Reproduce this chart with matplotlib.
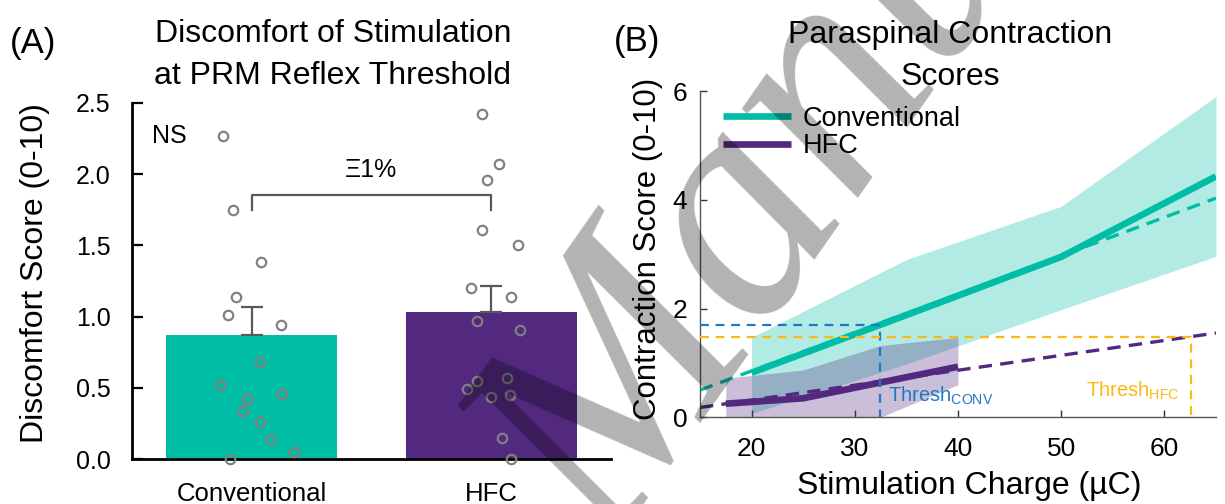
import matplotlib
matplotlib.use('Agg')
import matplotlib.pyplot as plt
import numpy as np

plt.rcParams['font.family'] = ['Liberation Sans', 'DejaVu Sans']
plt.rcParams['mathtext.fontset'] = 'custom'
plt.rcParams['mathtext.rm'] = 'Liberation Sans'
plt.rcParams['mathtext.it'] = 'Liberation Sans:italic'

# ---------------- data : panel A ----------------
categories = ['Conventional', 'HFC']
bar_means = [0.87, 1.03]
bar_sem = [0.196, 0.187]
conv_scores = [2.27, 1.75, 1.38, 1.14, 1.01, 0.94, 0.68, 0.52, 0.46, 0.42,
               0.34, 0.26, 0.14, 0.05, 0.0]
conv_jitter = [-0.118, -0.078, 0.041, -0.066, -0.099, 0.124, 0.035, -0.133,
               0.129, -0.019, -0.034, 0.035, 0.080, 0.177, -0.090]
hfc_scores = [2.42, 2.07, 1.96, 1.61, 1.50, 1.20, 1.14, 0.97, 0.91, 0.55,
              0.57, 0.49, 0.44, 0.45, 0.15, 0.0]
hfc_jitter = [-0.039, 0.032, -0.017, -0.039, 0.113, -0.086, 0.081, -0.060,
              0.120, -0.060, 0.066, -0.099, 0.0, 0.079, 0.045, 0.082]
yticks_a = [0.0, 0.5, 1.0, 1.5, 2.0, 2.5]
sig_text = 'Ξ1%'
bracket_y = [1.75, 1.85]
title_a = ['Discomfort of Stimulation', 'at PRM Reflex Threshold']

# ---------------- data : panel B ----------------
charge_conv = [20, 35, 50, 65]
conv_mean = [0.82, 1.88, 2.95, 4.43]
conv_upper = [1.47, 2.90, 3.88, 5.90]
conv_lower = [0.07, 0.98, 1.98, 2.96]
charge_hfc = [17.5, 25, 32.5, 40]
hfc_mean = [0.25, 0.35, 0.64, 0.93]
hfc_upper = [0.72, 0.87, 1.32, 1.47]
hfc_lower = [-0.30, -0.20, 0.00, 0.60]
fit_x = [15, 65]
conv_fit = [0.50, 4.03]
hfc_fit = [0.18, 1.55]
thresh_conv = (32.4, 1.70)
thresh_hfc = (62.6, 1.47)
xticks_b = [20, 30, 40, 50, 60]
yticks_b = [0, 2, 4, 6]
title_b = ['Paraspinal Contraction', 'Scores']

TEAL = '#00BDA5'
PURPLE = '#52297F'
GREY = '#595959'
BLUE = '#1F78C4'
GOLD = '#FDB813'

fig = plt.figure(figsize=(12.25, 5.04), dpi=100)

# ================= Panel A =================
axA = fig.add_axes([0.1075, 0.0887, 0.3913, 0.7075])
xpos = np.arange(len(categories))
axA.bar(xpos, bar_means, width=0.714, color=[TEAL, PURPLE], zorder=1)
axA.errorbar(xpos, bar_means, yerr=[[0, 0], bar_sem], fmt='none',
             ecolor=GREY, elinewidth=1.6, capsize=8, capthick=1.6, zorder=2)
axA.plot(xpos[0] + np.array(conv_jitter), conv_scores, 'o', ms=6.8,
         mfc='none', mec='#808080', mew=1.6, zorder=3, clip_on=False)
axA.plot(xpos[1] + np.array(hfc_jitter), hfc_scores, 'o', ms=6.8,
         mfc='none', mec='#808080', mew=1.6, zorder=3, clip_on=False)
axA.plot([xpos[0], xpos[0], xpos[1], xpos[1]],
         [bracket_y[0], bracket_y[1], bracket_y[1], bracket_y[0]],
         color=GREY, lw=1.6)
axA.text((xpos[0] + xpos[1]) / 2, 2.03, sig_text, ha='center', va='center',
         fontsize=18)
axA.text(-0.417, 2.27, 'NS', ha='left', va='center', fontsize=18)

axA.set_xlim(-0.5, 1.5)
axA.set_ylim(0, 2.5)
axA.set_yticks(yticks_a)
axA.set_yticklabels([f'{v:.1f}' for v in yticks_a])
axA.set_xticks(xpos)
axA.set_xticklabels(categories)
axA.tick_params(axis='y', direction='in', length=8, width=1.6,
                labelsize=18, pad=15)
axA.tick_params(axis='x', length=0, labelsize=18.5, pad=16)
for s in ['top', 'right']:
    axA.spines[s].set_visible(False)
for s in ['left', 'bottom']:
    axA.spines[s].set_linewidth(2)
axA.set_ylabel('Discomfort Score (0-10)', fontsize=23, va='center')
axA.yaxis.set_label_coords(35 / 1225, 1 - 273 / 504, transform=fig.transFigure)
for i, line in enumerate(title_a):
    fig.text(333 / 1225, 1 - (42 + 42 * i) / 504, line,
             ha='center', va='baseline', fontsize=23)
fig.text(33 / 1225, 1 - 44 / 504, '(A)', ha='center', va='center',
         fontsize=25)

# ================= Panel B =================
axB = fig.add_axes([0.5714, 0.172, 0.4212, 0.6474])
axB.fill_between(charge_conv, conv_lower, conv_upper, color=TEAL,
                 alpha=0.30, lw=0, zorder=1)
axB.fill_between(charge_hfc, hfc_lower, hfc_upper, color=PURPLE,
                 alpha=0.30, lw=0, zorder=1.1)
axB.plot(fit_x, conv_fit, color=TEAL, lw=2.4, dashes=(4, 2.5), zorder=2)
axB.plot(fit_x, hfc_fit, color=PURPLE, lw=2.4, dashes=(4, 2.5), zorder=2)
axB.plot(charge_conv, conv_mean, color=TEAL, lw=4.8, zorder=3,
         label='Conventional', solid_capstyle='butt')
axB.plot(charge_hfc, hfc_mean, color=PURPLE, lw=4.8, zorder=3,
         label='HFC', solid_capstyle='butt')

# threshold guide lines
axB.plot([15, thresh_conv[0], thresh_conv[0]],
         [thresh_conv[1], thresh_conv[1], 0], color=BLUE, lw=1.6,
         dashes=(4, 3), zorder=4)
axB.plot([15, thresh_hfc[0], thresh_hfc[0]],
         [thresh_hfc[1], thresh_hfc[1], 0], color=GOLD, lw=1.6,
         dashes=(4, 3), zorder=4)
axB.text(33.2, 0.29, r'Thresh$_{\mathregular{CONV}}$', color=BLUE,
         fontsize=14.5, ha='left', va='baseline', zorder=5)
axB.text(52.4, 0.38, r'Thresh$_{\mathregular{HFC}}$', color=GOLD,
         fontsize=14.5, ha='left', va='baseline', zorder=5)

axB.set_xlim(15, 65)
axB.set_ylim(0, 6)
axB.set_xticks(xticks_b)
axB.set_yticks(yticks_b)
axB.tick_params(direction='in', length=5, width=1, colors='#333333',
                labelcolor='black', labelsize=19)
axB.tick_params(axis='x', pad=14)
axB.tick_params(axis='y', pad=9)
for s in ['top', 'right']:
    axB.spines[s].set_visible(False)
for s in ['left', 'bottom']:
    axB.spines[s].set_linewidth(1)
    axB.spines[s].set_color('#555555')
axB.set_xlabel('Stimulation Charge (µC)', fontsize=23, va='center')
axB.xaxis.set_label_coords(969 / 1225, 1 - 486 / 504, transform=fig.transFigure)
axB.set_ylabel('Contraction Score (0-10)', fontsize=22.5, va='center')
axB.yaxis.set_label_coords(648 / 1225, 1 - 249 / 504, transform=fig.transFigure)
leg = axB.legend(loc='upper left', bbox_to_anchor=(0.0446, 0.955),
                 frameon=False, fontsize=19.5, handlelength=2.5,
                 handletextpad=0.45, labelspacing=0.05, borderpad=0,
                 borderaxespad=0)
for i, line in enumerate(title_b):
    fig.text(950 / 1225, 1 - (43 + 42 * i) / 504, line,
             ha='center', va='baseline', fontsize=23)
fig.text(637 / 1225, 1 - 42 / 504, '(B)', ha='center', va='center',
         fontsize=25)

# watermark stamp
fig.text(612 / 1225, 1 - 555 / 504, 'Manuscript', family='Liberation Serif',
         style='italic', fontsize=228, rotation=55, rotation_mode='anchor',
         ha='left', va='baseline', color=(0, 0, 0, 0.3), zorder=10)

fig.savefig('out.png', dpi=100)
